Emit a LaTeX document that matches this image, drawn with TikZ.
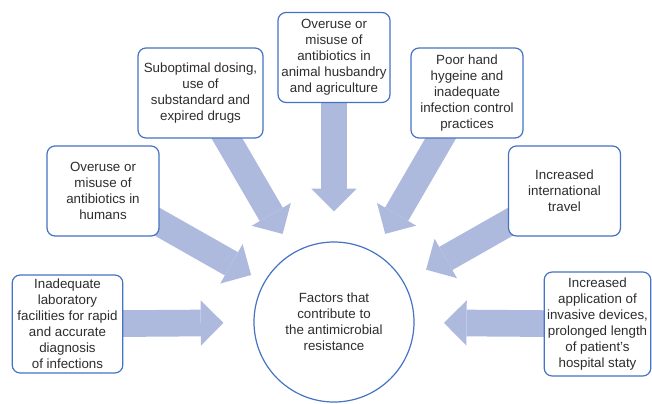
\documentclass[tikz,border=0pt]{standalone}
\usepackage{fontspec}
\setmainfont{Liberation Sans}
\usetikzlibrary{arrows.meta,backgrounds}
\definecolor{bordbleu}{RGB}{68,114,196}
\definecolor{flechebleu}{RGB}{174,186,221}
\definecolor{gristexte}{RGB}{45,45,45}
\begin{document}
\begin{tikzpicture}[x=0.75pt,y=-0.75pt]
\tikzstyle{fleche}=[draw=flechebleu,line width=20pt,-{Triangle[width=34pt,length=17pt,line width=0pt]}]
\tikzset{facteur/.style={draw=bordbleu,line width=0.9pt,rounded corners=6pt,fill=white,
text=gristexte,align=center,inner sep=2pt,font=\fontsize{10}{12}\selectfont,
minimum width=#1,minimum height=67.5pt},
facteur/.default={84pt}}
\useasboundingbox (0,0) rectangle (652,403);
\node[draw=bordbleu,line width=0.9pt,circle,minimum size=120pt,text=gristexte,align=center,
font=\fontsize{10}{12}\selectfont] (hub) at (334,322) {Factors that\\contribute to\\the antimicrobial\\resistance};
\node[facteur=83pt,minimum height=73.5pt] (B1) at (67.5,324) {Inadequate\\laboratory\\facilities for rapid\\and accurate\\diagnosis\\of infections};
\node[facteur] (B2) at (103,191) {Overuse or\\misuse of\\antibiotics in\\humans};
\node[facteur=93.75pt] (B3) at (200.5,93) {Suboptimal dosing,\\use of\\substandard and\\expired drugs};
\node[facteur] (B4) at (334,57.5) {Overuse or\\misuse of\\antibiotics in\\animal husbandry\\and agriculture};
\node[facteur] (B5) at (467,93) {Poor hand\\hygeine and\\inadequate\\infection control\\practices};
\node[facteur] (B6) at (564.5,191) {Increased\\international\\travel};
\node[facteur=80pt,minimum height=78pt] (B7) at (597.5,324) {Increased\\application of\\invasive devices,\\prolonged length\\of patient's\\hospital staty};

\begin{scope}[on background layer]
\draw[fleche,shorten >=22.5pt] (B1.center) -- (hub);
\draw[fleche,shorten >=11pt] (B2.center) -- (hub);
\draw[fleche,shorten >=16pt] (B3.center) -- (hub);
\draw[fleche,shorten >=22.5pt] (B4.center) -- (hub);
\draw[fleche,shorten >=16pt] (B5.center) -- (hub);
\draw[fleche,shorten >=19pt] (B6.center) -- (hub);
\draw[fleche,shorten >=22pt] (B7.center) -- (hub);
\end{scope}

\end{tikzpicture}
\end{document}
